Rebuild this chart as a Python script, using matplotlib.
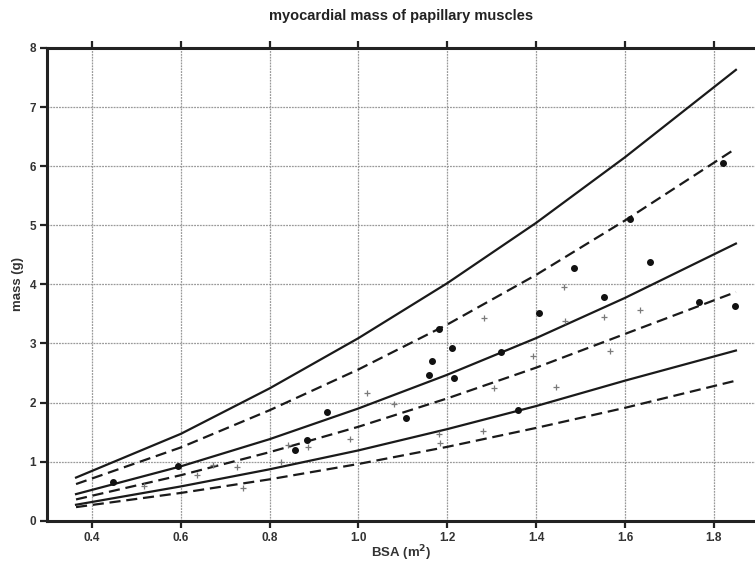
import matplotlib
matplotlib.use("Agg")
import matplotlib.pyplot as plt

plt.rcParams['font.family'] = ['Liberation Sans', 'DejaVu Sans']

# Reference curves (BSA in m^2, mass in g)
curve_bsa = [0.364, 0.6, 0.8, 1.0, 1.2, 1.4, 1.6, 1.85]
upper_solid = [0.73, 1.47, 2.24, 3.09, 4.02, 5.04, 6.15, 7.63]
upper_dashed = [0.62, 1.24, 1.87, 2.56, 3.32, 4.16, 5.08, 6.30]
middle_solid = [0.45, 0.92, 1.38, 1.90, 2.47, 3.09, 3.77, 4.69]
middle_dashed = [0.36, 0.77, 1.16, 1.59, 2.07, 2.59, 3.16, 3.87]
lower_solid = [0.27, 0.58, 0.87, 1.19, 1.55, 1.94, 2.37, 2.88]
lower_dashed = [0.23, 0.47, 0.70, 0.96, 1.25, 1.57, 1.91, 2.37]

# Filled circle data points
dot_bsa = [0.447, 0.594, 0.857, 0.884, 0.929, 1.106, 1.159, 1.166, 1.182, 1.21,
           1.216, 1.32, 1.36, 1.407, 1.486, 1.554, 1.611, 1.657, 1.768, 1.822, 1.849]
dot_mass = [0.66, 0.93, 1.20, 1.37, 1.84, 1.73, 2.47, 2.71, 3.25, 2.93,
            2.42, 2.86, 1.87, 3.51, 4.28, 3.78, 5.11, 4.37, 3.70, 6.06, 3.64]

# Plus data points
plus_bsa = [0.516, 0.636, 0.673, 0.726, 0.741, 0.826, 0.842, 0.887, 0.981, 1.019,
            1.08, 1.181, 1.183, 1.28, 1.283, 1.306, 1.393, 1.445, 1.463, 1.465,
            1.552, 1.567, 1.633]
plus_mass = [0.58, 0.77, 0.94, 0.91, 0.55, 1.00, 1.28, 1.25, 1.38, 2.16,
             1.98, 1.46, 1.31, 1.52, 3.43, 2.25, 2.79, 2.26, 3.95, 3.38,
             3.44, 2.88, 3.57]

x_ticks = [0.4, 0.6, 0.8, 1.0, 1.2, 1.4, 1.6, 1.8]
y_ticks = [0, 1, 2, 3, 4, 5, 6, 7, 8]

fig = plt.figure(figsize=(7.55, 5.67), dpi=100)
ax = fig.add_axes([47 / 755, (567 - 520.7) / 567, (755 - 47) / 755, (520.7 - 48) / 567])

ax.set_xlim(0.2986, 1.893)
ax.set_ylim(0, 8)

ax.grid(True, color='#9a9a9a', linewidth=0.9, linestyle=(0, (1.5, 0.8)))
ax.set_axisbelow(True)

lw = 1.6
dash = (0, (5, 2.6))
ax.plot(curve_bsa, upper_solid, color='#1a1a1a', lw=lw)
ax.plot(curve_bsa, upper_dashed, color='#1a1a1a', lw=lw, linestyle=dash)
ax.plot(curve_bsa, middle_solid, color='#1a1a1a', lw=lw)
ax.plot(curve_bsa, middle_dashed, color='#1a1a1a', lw=lw, linestyle=dash)
ax.plot(curve_bsa, lower_solid, color='#1a1a1a', lw=lw)
ax.plot(curve_bsa, lower_dashed, color='#1a1a1a', lw=lw, linestyle=dash)

ax.plot(plus_bsa, plus_mass, linestyle='none', marker='+', markersize=5,
        markeredgewidth=0.9, color='#7a7a7a')
ax.plot(dot_bsa, dot_mass, linestyle='none', marker='o', markersize=4.0,
        color='#111111')

ax.set_xticks(x_ticks)
ax.set_xticklabels([f"{v:.1f}" for v in x_ticks])
ax.set_yticks(y_ticks)
ax.set_yticklabels([str(v) for v in y_ticks])

for s in ['left', 'bottom', 'top']:
    ax.spines[s].set_linewidth(2.2)
    ax.spines[s].set_color('#222222')
ax.spines['right'].set_visible(False)

ax.tick_params(axis='both', direction='out', length=5, width=1.6, color='#222222',
               labelsize=8.5, pad=3)
ax.tick_params(axis='x', top=True, labeltop=False)
for lab in ax.get_xticklabels() + ax.get_yticklabels():
    lab.set_fontweight('bold')
    lab.set_color('#333333')

ax.set_xlabel('BSA (m$^\\mathbf{2}$)', fontsize=9.5, fontweight='bold', color='#333333', labelpad=0)
ax.set_ylabel('mass (g)', fontsize=9.5, fontweight='bold', color='#333333', labelpad=4)
fig.text(401 / 755, 1 - 16 / 567, 'myocardial mass of papillary muscles', ha='center', va='center',
         fontsize=10.5, fontweight='bold', color='#222222')

fig.savefig('out.png', dpi=100)
